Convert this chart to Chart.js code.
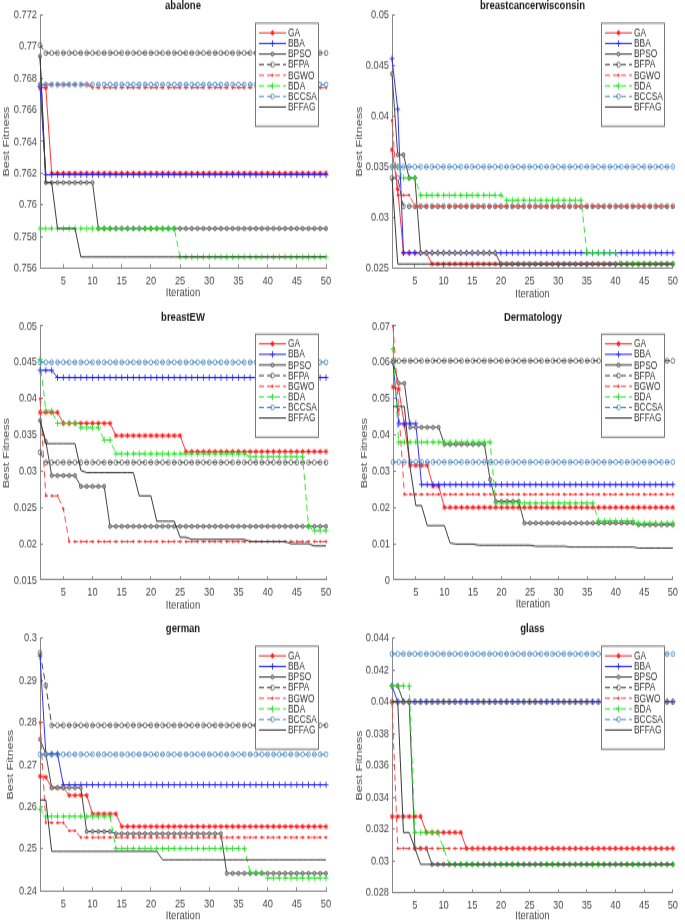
<!DOCTYPE html>
<html>
<head>
<meta charset="utf-8">
<script src="https://cdn.jsdelivr.net/npm/chart.js@4.4.1/dist/chart.umd.min.js"></script>
<style>
  html, body { margin: 0; padding: 0; background: #fff; }
  #page { position: relative; width: 685px; height: 923px; overflow: hidden; background: #fff; }
  #page canvas { position: absolute; }
</style>
</head>
<body>
<div id="page"></div>
<script>
// x axis: iteration number
const iterations = [
  1, 2, 3, 4, 5, 6, 7, 8, 9, 10, 11, 12, 13, 14, 15, 16, 17, 18, 19, 20,
  21, 22, 23, 24, 25, 26, 27, 28, 29, 30, 31, 32, 33, 34, 35, 36, 37, 38, 39, 40,
  41, 42, 43, 44, 45, 46, 47, 48, 49, 50,
];

const seriesNames = ["GA", "BBA", "BPSO", "BFPA", "BGWO", "BDA", "BCCSA", "BFFAG"];

// best fitness curves.
// each series is a list of [iteration, value]: the value holds until the next entry.
// order: GA, BBA, BPSO, BFPA, BGWO, BDA, BCCSA, BFFAG
const abaloneRuns = [
  [[1, 0.7674], [3, 0.7620]],
  [[1, 0.7675], [2, 0.7619]],
  [[1, 0.7694], [2, 0.7614], [11, 0.7585]],
  [[1, 0.7701], [2, 0.7696]],
  [[1, 0.7676], [10, 0.7674]],
  [[1, 0.7585], [25, 0.7567]],
  [[1, 0.7676]],
  [[1, 0.7694], [2, 0.7614], [4, 0.7585], [8, 0.7567]],
];

const breastcancerRuns = [
  [[1, 0.0367], [2, 0.0328], [3, 0.0265], [8, 0.0254]],
  [[1, 0.0457], [2, 0.0407], [3, 0.0265]],
  [[1, 0.0442], [2, 0.0362], [4, 0.0339], [6, 0.0265], [20, 0.0254]],
  [[1, 0.0339], [3, 0.0311]],
  [[1, 0.0396], [2, 0.0322], [5, 0.0311]],
  [[1, 0.0350], [3, 0.0339], [6, 0.0322], [21, 0.0317], [35, 0.0265], [41, 0.0254]],
  [[1, 0.0350]],
  [[1, 0.0339], [2, 0.0254]],
];

const breastEWRuns = [
  [[1, 0.0381], [5, 0.0366], [14, 0.0349], [26, 0.0327]],
  [[1, 0.0439], [4, 0.0429]],
  [[1, 0.0370], [2, 0.0341], [3, 0.0294], [8, 0.0279], [13, 0.0224]],
  [[1, 0.0326], [2, 0.0312]],
  [[1, 0.0400], [2, 0.0266], [5, 0.0248], [6, 0.0203]],
  [[1, 0.0454], [2, 0.0383], [4, 0.0366], [8, 0.0360], [12, 0.0343], [14, 0.0324], [37, 0.0320], [47, 0.0224], [48, 0.0218]],
  [[1, 0.0450]],
  [[1, 0.0370], [2, 0.0338], [8, 0.0301], [9, 0.0298], [18, 0.0266], [21, 0.0231], [25, 0.0209], [27, 0.0206], [37, 0.0203], [44, 0.0200], [48, 0.0197]],
];

const dermatologyRuns = [
  [[1, 0.0532], [2, 0.0527], [3, 0.0427], [4, 0.0316], [8, 0.0259], [10, 0.0200]],
  [[1, 0.0600], [2, 0.0431], [6, 0.0263]],
  [[1, 0.0600], [2, 0.0542], [4, 0.0421], [10, 0.0374], [18, 0.0277], [19, 0.0217], [24, 0.0157], [44, 0.0152]],
  [[1, 0.0604]],
  [[1, 0.0700], [2, 0.0470], [3, 0.0236]],
  [[1, 0.0637], [2, 0.0380], [19, 0.0212], [37, 0.0163], [44, 0.0157]],
  [[1, 0.0325]],
  [[1, 0.0478], [4, 0.0310], [5, 0.0205], [7, 0.0150], [11, 0.0102], [12, 0.0099], [16, 0.0096], [26, 0.0093], [32, 0.0091], [44, 0.0088]],
];

const germanRuns = [
  [[1, 0.2672], [2, 0.2670], [3, 0.2645], [6, 0.2627], [10, 0.2583], [15, 0.2553]],
  [[1, 0.2958], [2, 0.2725], [5, 0.2652]],
  [[1, 0.2760], [2, 0.2725], [3, 0.2645], [9, 0.2541], [14, 0.2536], [33, 0.2442]],
  [[1, 0.2965], [2, 0.2888], [3, 0.2793]],
  [[1, 0.2800], [2, 0.2562], [6, 0.2543], [8, 0.2527]],
  [[1, 0.2594], [2, 0.2577], [14, 0.2501], [37, 0.2444], [40, 0.2431]],
  [[1, 0.2724]],
  [[1, 0.2616], [3, 0.2494], [22, 0.2474]],
];

const glassRuns = [
  [[1, 0.0328], [7, 0.0318], [14, 0.0308]],
  [[1, 0.0410], [2, 0.0400]],
  [[1, 0.0410], [3, 0.0400], [5, 0.0308], [8, 0.0298]],
  [[1, 0.0400]],
  [[1, 0.0400], [2, 0.0308]],
  [[1, 0.0410], [5, 0.0318], [10, 0.0308], [11, 0.0298]],
  [[1, 0.0430]],
  [[1, 0.0400], [3, 0.0318], [5, 0.0308], [6, 0.0298]],
];

const panelTitles = ["abalone", "breastcancerwisconsin", "breastEW", "Dermatology", "german", "glass"];
const panelRuns = [abaloneRuns, breastcancerRuns, breastEWRuns, dermatologyRuns, germanRuns, glassRuns];
// y axis range and tick step per panel
const yMins = [0.756, 0.025, 0.015, 0, 0.24, 0.028];
const yMaxs = [0.772, 0.05, 0.05, 0.07, 0.3, 0.044];
const ySteps = [0.002, 0.005, 0.005, 0.01, 0.01, 0.002];

// ---- styles and layout ----
const FONT = "'Liberation Sans', Arial, Helvetica, sans-serif";
const STRETCH = 1.3; // the figure in the reference is squashed horizontally / stretched vertically
const axisColor = "#8a8a8a";
const textColor = "#4a4a4a";

const seriesStyle = [
  { line: "#ff3535", dash: [], marker: "star", radius: 2.1, edge: "#ff1010", fill: "#ff1010" },
  { line: "#3030ff", dash: [], marker: "cross", radius: 2.5, edge: "#2020ff", fill: "#2020ff" },
  { line: "#454545", dash: [], marker: "circle", radius: 1.5, edge: "#555555", fill: "#b0b0b0" },
  { line: "#454545", dash: [5, 3], marker: "circle", radius: 1.9, edge: "#606060", fill: "rgba(255,255,255,0)" },
  { line: "#ff4545", dash: [5, 3], marker: "circle", radius: 0.8, edge: "#ff3030", fill: "#ff3030" },
  { line: "#2aee2a", dash: [5, 3], marker: "cross", radius: 2.5, edge: "#1adc1a", fill: "#1adc1a" },
  { line: "#4a90d0", dash: [5, 3], marker: "circle", radius: 1.9, edge: "#4f88bd", fill: "rgba(255,255,255,0)" },
  { line: "#3a3a3a", dash: [], marker: "circle", radius: 0, edge: "#3a3a3a", fill: "#3a3a3a" },
];

const panelLayout = [
  { left: 0, top: 0, width: 340, height: 300, areaTop: 15, areaBottom: 268, yAxisW: 40, padRight: 14, titleY: 6, xTitleY: 293, yTitlePad: 0 },
  { left: 340, top: 0, width: 345, height: 300, areaTop: 15, areaBottom: 268, yAxisW: 52, padRight: 6, titleY: 6, xTitleY: 294, yTitlePad: 13 },
  { left: 0, top: 300, width: 340, height: 310, areaTop: 26, areaBottom: 280, yAxisW: 40, padRight: 14, titleY: 17, xTitleY: 305, yTitlePad: 0 },
  { left: 340, top: 300, width: 345, height: 310, areaTop: 26, areaBottom: 280, yAxisW: 53, padRight: 6, titleY: 17, xTitleY: 304, yTitlePad: 18 },
  { left: 0, top: 610, width: 340, height: 313, areaTop: 28, areaBottom: 281, yAxisW: 40, padRight: 14, titleY: 19, xTitleY: 306, yTitlePad: 4 },
  { left: 340, top: 610, width: 345, height: 313, areaTop: 28, areaBottom: 283, yAxisW: 52, padRight: 6, titleY: 19, xTitleY: 306, yTitlePad: 13 },
];

// hold each value until the next change
function expand(runs) {
  const out = [];
  let k = 0;
  for (const it of iterations) {
    while (k + 1 < runs.length && runs[k + 1][0] <= it) k++;
    out.push(runs[k][1]);
  }
  return out;
}

function drawMarker(ctx, style, x, y) {
  if (!style.radius) return;
  const opts = { pointStyle: style.marker, radius: style.radius, borderWidth: 0.8, rotation: 0 };
  ctx.fillStyle = style.fill;
  ctx.strokeStyle = style.edge;
  ctx.lineWidth = 0.8;
  ctx.setLineDash([]);
  if (Chart.helpers && Chart.helpers.drawPoint) {
    Chart.helpers.drawPoint(ctx, opts, x, y);
  } else {
    ctx.beginPath();
    ctx.arc(x, y, style.radius, 0, Math.PI * 2);
    ctx.fill();
    ctx.stroke();
  }
}

// legend box inside the plot, top right, like matlab's northeast legend
const insideLegend = {
  id: "insideLegend",
  afterDatasetsDraw(chart, args, opts) {
    const { ctx, chartArea } = chart;
    const k = opts.k;
    const w = 63;
    const h = 103 / k;
    const x0 = Math.round(chartArea.right - 8.5 - w);
    const y0 = chartArea.top + 7.5 / k;
    ctx.save();
    ctx.fillStyle = "#ffffff";
    ctx.fillRect(x0, y0, w, h);
    ctx.strokeStyle = "#6a6a6a";
    ctx.lineWidth = 0.9;
    ctx.setLineDash([]);
    ctx.strokeRect(x0 + 0.5, y0 + 0.5, w, h);

    seriesNames.forEach((name, i) => {
      const s = seriesStyle[i];
      const cy = y0 + (10.3 + i * 10.6) / k;
      ctx.strokeStyle = s.line;
      ctx.lineWidth = 1;
      ctx.setLineDash(s.dash);
      ctx.beginPath();
      ctx.moveTo(x0 + 4, cy);
      ctx.lineTo(x0 + 31, cy);
      ctx.stroke();
      drawMarker(ctx, s, x0 + 17.5, cy);
      ctx.fillStyle = "#333333";
      ctx.font = "8.4px " + FONT;
      ctx.textBaseline = "middle";
      ctx.textAlign = "left";
      ctx.fillText(name, x0 + 33, cy + 0.3);
    });
    ctx.restore();
  },
};

const page = document.getElementById("page");

panelTitles.forEach((title, n) => {
  const L = panelLayout[n];
  const canvasH = Math.round(L.height / STRETCH);
  const k = L.height / canvasH;

  const canvas = document.createElement("canvas");
  canvas.width = L.width;
  canvas.height = canvasH;
  canvas.style.left = L.left + "px";
  canvas.style.top = L.top + "px";
  canvas.style.width = L.width + "px";
  canvas.style.height = L.height + "px";
  page.appendChild(canvas);

  const padTop = Math.max(0, L.titleY / k - 4.75);
  const titlePadBottom = L.areaTop / k - padTop - 9.5;
  const xAxisH = canvasH - L.areaBottom / k;
  const xTitlePad = (L.height - L.xTitleY) / k - 5.7;

  const datasets = seriesNames.map((name, i) => {
    const s = seriesStyle[i];
    return {
      label: name,
      data: expand(panelRuns[n][i]),
      borderColor: s.line,
      borderWidth: 1,
      borderDash: s.dash,
      pointStyle: s.marker,
      pointRadius: s.radius,
      pointHoverRadius: s.radius,
      pointBorderColor: s.edge,
      pointBackgroundColor: s.fill,
      pointBorderWidth: 0.8,
      tension: 0,
      fill: false,
      clip: false,
      order: seriesNames.length - 1 - i,
    };
  });

  new Chart(canvas, {
    type: "line",
    data: { labels: iterations, datasets },
    options: {
      responsive: false,
      maintainAspectRatio: false,
      animation: false,
      devicePixelRatio: 1,
      events: [],
      layout: { padding: { top: padTop, right: L.padRight, bottom: 0, left: 0 } },
      plugins: {
        legend: { display: false },
        tooltip: { enabled: false },
        title: {
          display: true,
          text: title,
          fullSize: false,
          color: "#1a1a1a",
          font: { family: FONT, size: 9.5, weight: "bold", lineHeight: 1 },
          padding: { top: 0, bottom: titlePadBottom },
        },
        insideLegend: { k },
      },
      scales: {
        x: {
          type: "linear",
          min: 1,
          max: 50,
          ticks: {
            stepSize: 5,
            includeBounds: false,
            autoSkip: false,
            maxRotation: 0,
            padding: 7,
            color: textColor,
            font: { family: FONT, size: 9.3 },
          },
          grid: { drawOnChartArea: false, tickLength: -3, color: axisColor },
          border: { color: axisColor },
          title: {
            display: true,
            text: "Iteration",
            color: textColor,
            font: { family: FONT, size: 9.5, lineHeight: 1.2 },
            padding: { top: 0, bottom: xTitlePad },
          },
          afterFit: (scale) => { scale.height = xAxisH; },
        },
        y: {
          min: yMins[n],
          max: yMaxs[n],
          ticks: {
            stepSize: ySteps[n],
            padding: 6,
            color: textColor,
            font: { family: FONT, size: 9.3 },
            callback: (v) => String(+(+v).toFixed(6)),
          },
          grid: { drawOnChartArea: false, tickLength: -3, color: axisColor },
          border: { color: axisColor },
          title: {
            display: true,
            text: "Best Fitness",
            color: textColor,
            font: { family: FONT, size: 9.8, lineHeight: 1.2 },
            padding: { top: L.yTitlePad, bottom: 0 },
          },
          afterFit: (scale) => { scale.width = L.yAxisW; },
        },
      },
    },
    plugins: [insideLegend],
  });
});
</script>
</body>
</html>
